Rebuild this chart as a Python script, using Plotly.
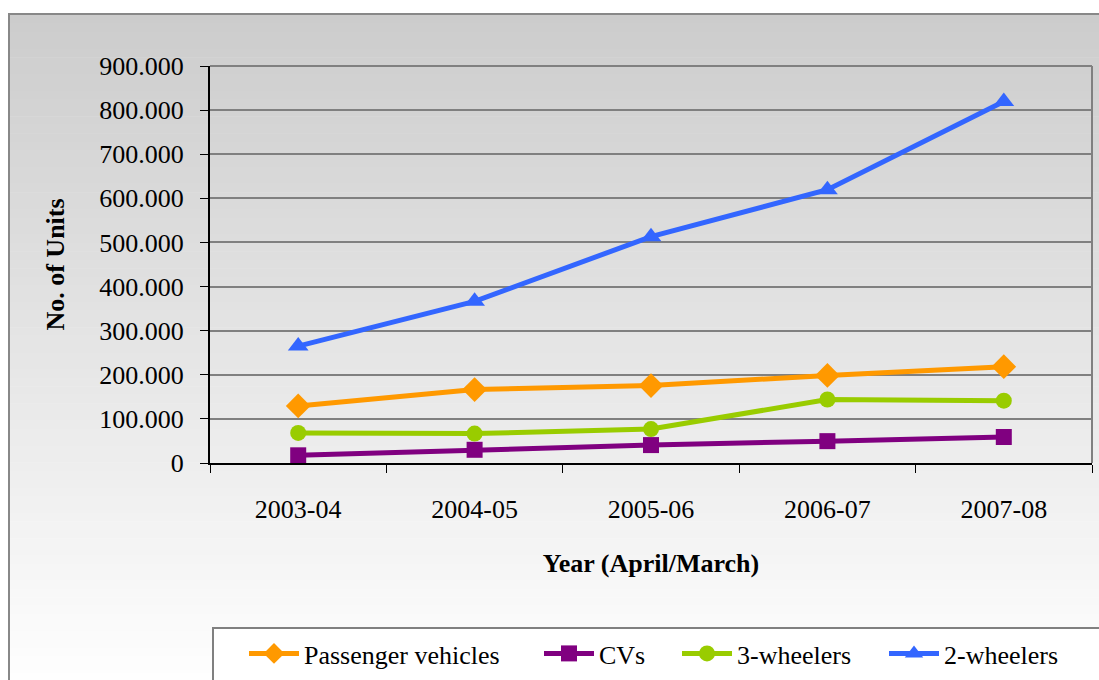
import plotly.graph_objects as go

# ---- data ----
years = ["2003-04", "2004-05", "2005-06", "2006-07", "2007-08"]
passenger_vehicles = [129291, 166402, 175572, 198452, 218401]
cvs = [17432, 29940, 40600, 49537, 58994]
three_wheelers = [68144, 66795, 76881, 143896, 141225]
two_wheelers = [265052, 366407, 513169, 619644, 819713]

series_names = ["Passenger vehicles", "CVs", "3-wheelers", "2-wheelers"]
y_ticks = [0, 100000, 200000, 300000, 400000, 500000, 600000, 700000, 800000, 900000]

# ---- layout geometry (pixels) ----
W, H = 1099, 680
L, R, T, B = 210, 1092, 66, 463
FONT = "Liberation Serif"


def px(x):
    return (x - L) / (R - L)


def py(y):
    return (B - y) / (B - T)


fig = go.Figure()

styles = [
    dict(color="#FF9900", symbol="diamond", size=19),
    dict(color="#800080", symbol="square", size=16),
    dict(color="#99CC00", symbol="circle", size=16),
    dict(color="#3366FF", symbol="triangle-up", size=18),
]
legend_ids = ["legend", "legend2", "legend3", "legend4"]
legend_x = [244, 539, 677, 884]

for name, vals, st, lid in zip(series_names,
                               [passenger_vehicles, cvs, three_wheelers, two_wheelers],
                               styles, legend_ids):
    fig.add_trace(go.Scatter(
        x=years, y=vals, name=name, mode="lines+markers",
        line=dict(color=st["color"], width=5),
        marker=dict(color=st["color"], symbol=st["symbol"], size=st["size"]),
        cliponaxis=False, legend=lid,
    ))

shapes = []
# gradient background inside outer frame
top_px, bot_px = 15, 690
n = 80
for i in range(n):
    y0 = top_px + (bot_px - top_px) * i / n
    y1 = top_px + (bot_px - top_px) * (i + 1) / n + 0.6
    f = (i + 0.5) / n
    c = int(round(204 + (255 - 204) * f))
    shapes.append(dict(type="rect", xref="paper", yref="paper",
                       x0=px(10), x1=px(1105), y0=py(y0), y1=py(min(y1, bot_px)),
                       fillcolor=f"rgb({c},{c},{c})", line=dict(width=0),
                       layer="below"))
# outer frame
shapes.append(dict(type="rect", xref="paper", yref="paper",
                   x0=px(9), x1=px(1110), y0=py(14), y1=py(700),
                   line=dict(color="#888888", width=2), fillcolor="rgba(0,0,0,0)",
                   layer="below"))
# plot area border top/right (gray)
shapes.append(dict(type="line", xref="paper", yref="paper", x0=0, x1=1, y0=1, y1=1,
                   line=dict(color="#808080", width=2), layer="below"))
shapes.append(dict(type="line", xref="paper", yref="paper", x0=1, x1=1, y0=0, y1=1,
                   line=dict(color="#808080", width=2), layer="below"))
# legend box
shapes.append(dict(type="rect", xref="paper", yref="paper",
                   x0=px(213), x1=px(1110), y0=py(628), y1=py(700),
                   line=dict(color="#808080", width=2), fillcolor="#FFFFFF",
                   layer="below"))

legend_common = dict(
    orientation="h", xanchor="left", yanchor="top",
    bgcolor="rgba(0,0,0,0)", borderwidth=0,
    font=dict(family=FONT, size=26, color="black"),
    itemwidth=50,
)
legends = {}
for lid, lx in zip(legend_ids, legend_x):
    legends[lid] = dict(legend_common, x=px(lx), y=py(630))

fig.update_layout(
    width=W, height=H,
    margin=dict(l=L, r=W - R, t=T, b=H - B, pad=0, autoexpand=False),
    paper_bgcolor="white",
    plot_bgcolor="rgba(0,0,0,0)",
    separators=",.",
    font=dict(family=FONT, size=26, color="black"),
    shapes=shapes,
    showlegend=True,
    xaxis=dict(
        type="category", range=[-0.5, 4.5],
        showline=True, linecolor="black", linewidth=2,
        ticks="outside", ticklen=8, tickwidth=1, tickcolor="black",
        tickson="boundaries", showgrid=False, zeroline=False,
        ticklabelstandoff=22,
        tickfont=dict(family=FONT, size=26, color="black"),
        title=dict(text="<b>Year (April/March)</b>", standoff=31,
                   font=dict(family=FONT, size=26, color="black")),
    ),
    yaxis=dict(
        range=[0, 900000], tickvals=y_ticks, tickformat=",",
        showline=True, linecolor="black", linewidth=2,
        ticks="outside", ticklen=8, tickwidth=1, tickcolor="black",
        showgrid=True, gridcolor="#808080", gridwidth=2, zeroline=False,
        ticklabelstandoff=11,
        tickfont=dict(family=FONT, size=26, color="black"),
        title=dict(text="<b>No. of Units</b>", standoff=27,
                   font=dict(family=FONT, size=26, color="black")),
    ),
    **legends,
)

fig.write_html("out.html", config={"displayModeBar": False},
               post_script="document.body.style.margin='0px';")
